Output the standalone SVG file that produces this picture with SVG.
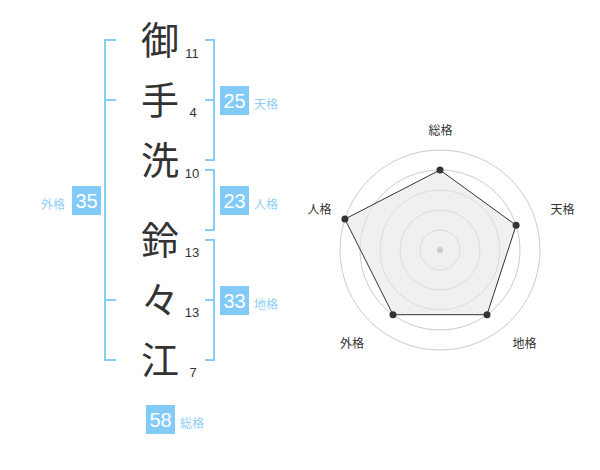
<svg xmlns="http://www.w3.org/2000/svg" width="600" height="470" viewBox="0 0 600 470">
<style>
.kanji{font-family:"Noto Sans CJK JP","Noto Sans",sans-serif;font-size:38px;fill:#333;text-anchor:middle}
.num{font-family:"Liberation Sans",Arial,sans-serif;font-size:13px;fill:#333;text-anchor:middle}
.br{fill:none;stroke:#86cdf7;stroke-width:2}
.box{fill:#82cbf7}
.bnum{font-family:"Liberation Sans",Arial,sans-serif;font-size:20px;fill:#fff;text-anchor:middle}
.blab{font-family:"Noto Sans CJK JP",sans-serif;font-size:12px;fill:#8fd0f7;text-anchor:middle}
.rlab{font-family:"Noto Sans CJK JP",sans-serif;font-size:12px;fill:#333;text-anchor:middle}
.ring{fill:none;stroke:#ccc;stroke-width:1}
.dot{fill:#333}
</style>
<rect width="600" height="470" fill="#fff"/>
<g id="chars">
<text class="kanji" x="160" y="54">御</text>
<text class="kanji" x="160" y="114">手</text>
<text class="kanji" x="160" y="174">洗</text>
<text class="kanji" x="160" y="254">鈴</text>
<text class="kanji" x="160" y="314">々</text>
<text class="kanji" x="160" y="374">江</text>
</g>
<g id="strokes">
<text class="num" x="192" y="58">11</text>
<text class="num" x="193" y="117">4</text>
<text class="num" x="192" y="178">10</text>
<text class="num" x="192" y="257">13</text>
<text class="num" x="192" y="317">13</text>
<text class="num" x="193" y="377">7</text>
</g>
<g id="connectors">
<path class="br" d="M116,40H105V360H116M105,100H116M105,300H116"/>
<path class="br" d="M205,40H214V160H205M205,100H214"/>
<path class="br" d="M205,170H214V230H205"/>
<path class="br" d="M205,240H214V360H205M205,300H214"/>
</g>
<g id="tenkaku">
<rect class="box" x="220" y="86" width="29" height="29"/>
<text class="bnum" x="234.5" y="108">25</text>
<text class="blab" x="266" y="109">天格</text>
</g>
<g id="jinkaku">
<rect class="box" x="220" y="186" width="29" height="29"/>
<text class="bnum" x="234.5" y="208">23</text>
<text class="blab" x="266" y="209">人格</text>
</g>
<g id="chikaku">
<rect class="box" x="220" y="286" width="29" height="29"/>
<text class="bnum" x="234.5" y="308">33</text>
<text class="blab" x="266" y="309">地格</text>
</g>
<g id="gaikaku">
<rect class="box" x="72" y="186" width="29" height="29"/>
<text class="bnum" x="86.5" y="208">35</text>
<text class="blab" x="53" y="209">外格</text>
</g>
<g id="soukaku">
<rect class="box" x="146" y="405" width="29" height="29"/>
<text class="bnum" x="160.5" y="427">58</text>
<text class="blab" x="192" y="428">総格</text>
</g>
<g id="radar">
<circle class="ring" cx="440" cy="250" r="100"/>
<circle class="ring" cx="440" cy="250" r="80"/>
<circle class="ring" cx="440" cy="250" r="60"/>
<circle class="ring" cx="440" cy="250" r="40"/>
<circle class="ring" cx="440" cy="250" r="20"/>
<polygon points="440,170 516.1,225.3 487,314.7 393,314.7 344.9,219.1" fill="#e6e6e6" fill-opacity="0.6" stroke="#333" stroke-width="1"/>
<circle cx="440" cy="250" r="3" fill="#ccc"/>
<circle class="dot" cx="440" cy="170" r="3.5"/>
<circle class="dot" cx="516.1" cy="225.3" r="3.5"/>
<circle class="dot" cx="487" cy="314.7" r="3.5"/>
<circle class="dot" cx="393" cy="314.7" r="3.5"/>
<circle class="dot" cx="344.9" cy="219.1" r="3.5"/>
<text class="rlab" x="440.5" y="135">総格</text>
<text class="rlab" x="562.5" y="214">天格</text>
<text class="rlab" x="319.5" y="214">人格</text>
<text class="rlab" x="352" y="348">外格</text>
<text class="rlab" x="524.5" y="348">地格</text>
</g>
</svg>
